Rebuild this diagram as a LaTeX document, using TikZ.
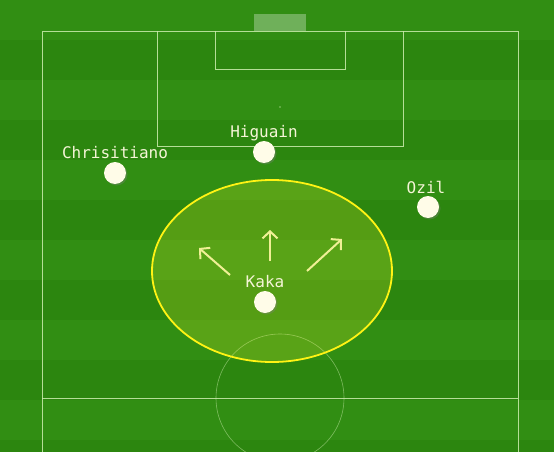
\documentclass[tikz,border=0pt]{standalone}
\usepackage{fontspec}
\newfontfamily\hand{DejaVu Sans Mono}
\usetikzlibrary{arrows.meta,shadows}
\definecolor{grassA}{RGB}{44,134,15}
\definecolor{grassB}{RGB}{49,142,19}
\definecolor{chalk}{RGB}{205,238,175}
\definecolor{cream}{RGB}{255,252,232}
\definecolor{labelc}{RGB}{245,245,215}
\definecolor{arrowc}{RGB}{240,240,150}
\definecolor{zone}{RGB}{235,240,40}
\begin{document}
\begin{tikzpicture}[x=1pt,y=-1pt,
  pline/.style={draw=chalk, line width=0.9pt, opacity=0.85},
  player/.style={circle, fill=cream, minimum size=22pt, inner sep=0pt,
     drop shadow={shadow xshift=1.5pt, shadow yshift=-1.5pt, opacity=0.35}},
  pname/.style={font=\hand\fontsize{16}{16}\selectfont, text=labelc, inner sep=0pt, anchor=base},
  run/.style={draw=arrowc, line width=2pt, -{Straight Barb[length=7pt,width=15pt,line width=2pt]}}]
\useasboundingbox (0,0) rectangle (554,452);
\fill[grassA] (0,0) rectangle (554,452);
\foreach \y in {0,80,...,440} \fill[grassB] (0,\y) rectangle (554,\y+40);
% pitch
\draw[pline] (42,452) -- (42,31) -- (518,31) -- (518,452);
\draw[pline] (42,398) -- (518,398);
\draw[pline] (157,31) -- (157,146) -- (403,146) -- (403,31);
\draw[pline] (215,31) -- (215,69) -- (345,69) -- (345,31);
\fill[white, opacity=0.3] (254,14) rectangle (306,31);
\fill[chalk, opacity=0.6] (280,107) circle [radius=0.8pt];
\draw[chalk, opacity=0.5, line width=0.6pt] (280,398) circle [radius=64pt];
% zone
\draw[draw=yellow!92!white, line width=1.8pt, fill=zone, fill opacity=0.22]
  (272,271) ellipse [x radius=120pt, y radius=91pt];
% players
\node[player] (chris) at (115,173) {};
\node[player] (higuain) at (264,152) {};
\node[player] (ozil) at (428,207) {};
\node[player] (kaka) at (265,302) {};
\node[pname] (chrisL) at (115,158) {Chrisitiano};
\node[pname] (higuainL) at (264,137) {Higuain};
\node[pname] (ozilL) at (426,193) {Ozil};
\node[pname] (kakaL) at (265,287) {Kaka};
% runs
\coordinate (l0) at (230,275); \coordinate (l1) at (199,248);
\coordinate (m0) at (270,261); \coordinate (m1) at (270,230);
\coordinate (r0) at (307,271); \coordinate (r1) at (342,239);
\draw[run] (l0) -- (l1);
\draw[run] (m0) -- (m1);
\draw[run] (r0) -- (r1);
\end{tikzpicture}
\end{document}
